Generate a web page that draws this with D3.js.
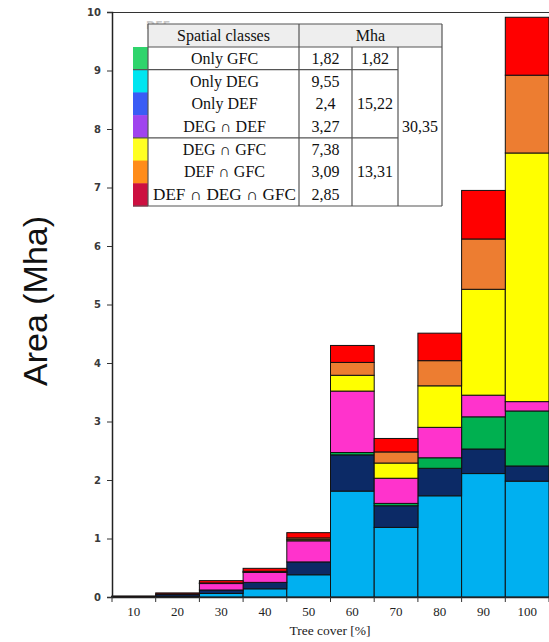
<!DOCTYPE html>
<html><head><meta charset="utf-8">
<script src="https://cdn.jsdelivr.net/npm/d3@7"></script>
<style>html,body{margin:0;padding:0;background:#fff;}</style>
</head><body>
<svg id="chart" width="549" height="642"></svg>
<script>
// ---- data ----
const categories = ["10","20","30","40","50","60","70","80","90","100"];
const seriesKeys = ["onlyDEG","onlyDEF","onlyGFC","degDef","degGfc","defGfc","defDegGfc"];
const onlyDEG   = [0.005,0.01,0.06,0.14,0.38,1.81,1.19,1.73,2.11,1.98];
const onlyDEF   = [0.005,0.03,0.06,0.11,0.22,0.62,0.37,0.47,0.42,0.26];
const onlyGFC   = [0,0,0,0,0,0.04,0.04,0.18,0.55,0.94];
const degDef    = [0.002,0.01,0.11,0.17,0.36,1.05,0.43,0.52,0.37,0.16];
const degGfc    = [0,0,0.005,0.01,0.02,0.27,0.26,0.71,1.81,4.25];
const defGfc    = [0,0,0.005,0.01,0.03,0.22,0.19,0.43,0.86,1.33];
const defDegGfc = [0.003,0.02,0.04,0.05,0.09,0.29,0.23,0.47,0.83,0.99];
const barColors = ["#00b0f0","#0c2a66","#00b050","#ff33cc","#ffff00","#ed7d31","#ff0000"];
const yTicks = [0,1,2,3,4,5,6,7,8,9,10];

// legend table
const tableNames = ["Only GFC","Only DEG","Only DEF","DEG \u2229 DEF","DEG \u2229 GFC","DEF \u2229 GFC","DEF \u2229 DEG \u2229 GFC"];
const tableValues = ["1,82","9,55","2,4","3,27","7,38","3,09","2,85"];
const tableColors = ["#2fd46c","#00e5f0","#3a5cf5","#a044ee","#ffff22","#ff8c1a","#cc1040"];
const groupTotals = [{label:"1,82",from:0,to:1},{label:"15,22",from:1,to:4},{label:"13,31",from:4,to:7}];
const grandTotal = "30,35";

const seriesVals = [onlyDEG,onlyDEF,onlyGFC,degDef,degGfc,defGfc,defDegGfc];
const table = categories.map((c,i)=>{
  const o={cat:c};
  seriesKeys.forEach((k,j)=>o[k]=seriesVals[j][i]);
  return o;
});

const svg = d3.select("#chart");
const L=112, R=549, T=12, B=597;
const x = d3.scaleBand().domain(categories).range([L,R]).padding(0);
const y = d3.scaleLinear().domain([0,10]).range([B,T]);

const stack = d3.stack().keys(seriesKeys)(table);
svg.append("g").selectAll("g").data(stack).join("g")
  .attr("fill",(d,i)=>barColors[i])
  .selectAll("rect").data(d=>d).join("rect")
  .attr("x",d=>x(d.data.cat)).attr("width",x.bandwidth())
  .attr("y",d=>y(d[1])).attr("height",d=>Math.max(0,y(d[0])-y(d[1])))
  .attr("stroke","#111").attr("stroke-width",1);

// top border
svg.append("line").attr("x1",L).attr("x2",R).attr("y1",T+0.5).attr("y2",T+0.5)
  .attr("stroke","#333").attr("stroke-width",1.2);

// y axis
const yAxis = svg.append("g").attr("transform",`translate(${L},0)`)
  .call(d3.axisLeft(y).tickValues(yTicks).tickSize(5).tickPadding(6).tickFormat(d3.format("d")));
yAxis.select(".domain").attr("stroke","#222").attr("stroke-width",1.5);
yAxis.selectAll(".tick line").attr("stroke","#333");
yAxis.selectAll("text").attr("font-family","DejaVu Sans").attr("font-size",10).attr("font-weight","bold").attr("fill","#3a3a3a");

// x axis
const xAxis = svg.append("g").attr("transform",`translate(0,${B})`)
  .call(d3.axisBottom(x).tickSize(0).tickPadding(10));
xAxis.select(".domain").attr("stroke","#222").attr("stroke-width",1.5);
xAxis.selectAll("text").attr("font-family","Liberation Serif").attr("font-size",13).attr("fill","#222");
const bounds = categories.map(c=>x(c)).concat([x(categories[categories.length-1])+x.bandwidth()]);
xAxis.selectAll("line.bt").data(bounds).join("line").attr("class","bt")
  .attr("x1",d=>d).attr("x2",d=>d).attr("y1",0).attr("y2",5).attr("stroke","#333");

svg.append("text").attr("x",330).attr("y",635).attr("text-anchor","middle")
  .attr("font-family","Liberation Serif").attr("font-size",13.5).attr("fill","#222").text("Tree cover [%]");

svg.append("text").attr("transform","translate(47,301) rotate(-90)").attr("text-anchor","middle")
  .attr("font-family","Liberation Sans").attr("font-size",34).attr("fill","#111").text("Area (Mha)");

// faint hidden legend label behind table
svg.append("text").attr("x",146).attr("y",29).attr("font-family","DejaVu Sans").attr("font-size",11)
  .attr("font-weight","bold").attr("fill","#c8c8c8").text("DEF");

// ---- legend table ----
const tg = svg.append("g");
const sx0=133, sx1=148, c1=299, c2=352, c3=398, c4=442;
const hy0=24, hy1=47, rowH=(206-47)/7;
const ry = i=>hy1+i*rowH;
const lineC="#555";
tg.append("rect").attr("x",sx1).attr("y",hy0).attr("width",c4-sx1).attr("height",hy1-hy0).attr("fill","#eeeeee");
tg.append("rect").attr("x",sx1).attr("y",hy1).attr("width",c4-sx1).attr("height",ry(7)-hy1).attr("fill","#fff");
tg.selectAll("rect.sw").data(tableColors).join("rect").attr("class","sw")
  .attr("x",sx0).attr("y",(d,i)=>ry(i)).attr("width",sx1-sx0).attr("height",rowH+0.5).attr("fill",d=>d);
const ln=(x1,y1,x2,y2)=>tg.append("line").attr("x1",x1).attr("y1",y1).attr("x2",x2).attr("y2",y2).attr("stroke",lineC).attr("stroke-width",1.2);
ln(sx1,hy0,c4,hy0); ln(sx1,hy1,c4,hy1);
ln(sx1,hy0,sx1,ry(7)); ln(c4,hy0,c4,ry(7));
ln(c1,hy0,c1,ry(7)); ln(c2,hy1,c2,ry(7)); ln(c3,hy1,c3,ry(7));
ln(sx0,ry(1),c3,ry(1)); ln(sx0,ry(4),c3,ry(4)); ln(sx0,ry(7),c4,ry(7));
const txt=(s,xx,yy)=>tg.append("text").attr("x",xx).attr("y",yy).attr("text-anchor","middle")
  .attr("dominant-baseline","central").attr("font-family","Liberation Serif").attr("font-size",16).attr("fill","#111").text(s);
txt("Spatial classes",(sx1+c1)/2,(hy0+hy1)/2);
txt("Mha",(c1+c4)/2,(hy0+hy1)/2);
tableNames.forEach((n,i)=>{
  const t=txt(n,(sx1+c1)/2+1,ry(i)+rowH/2);
  if(n.length>12) t.attr("textLength",143).attr("lengthAdjust","spacingAndGlyphs");
});
tableValues.forEach((v,i)=>txt(v,(c1+c2)/2,ry(i)+rowH/2));
groupTotals.forEach(g=>txt(g.label,(c2+c3)/2,(ry(g.from)+ry(g.to))/2));
txt(grandTotal,(c3+c4)/2,(ry(0)+ry(7))/2);
</script>
</body></html>
